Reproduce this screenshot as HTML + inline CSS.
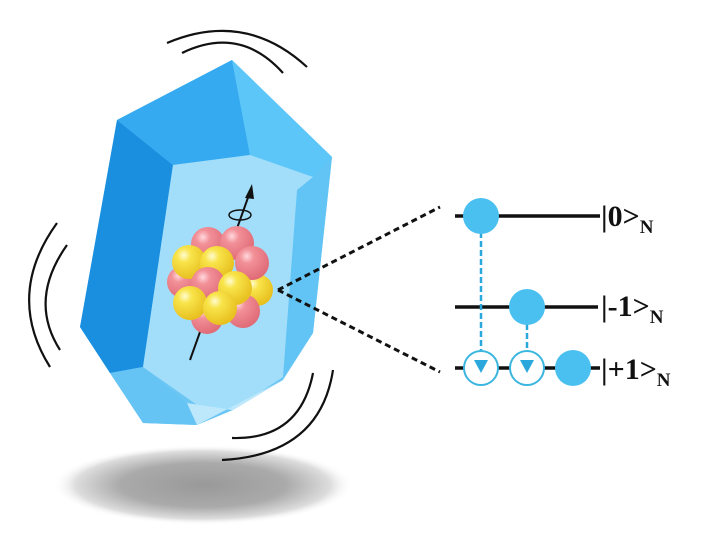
<!DOCTYPE html>
<html><head><meta charset="utf-8"><style>html,body{margin:0;padding:0;background:#fff}svg{display:block}</style></head><body>
<svg width="709" height="541" viewBox="0 0 709 541" xmlns="http://www.w3.org/2000/svg">
<defs>
<radialGradient id="sh" cx="0.5" cy="0.5" r="0.5"><stop offset="0" stop-color="#999"/><stop offset="0.55" stop-color="#aaa"/><stop offset="0.85" stop-color="#ddd"/><stop offset="1" stop-color="#fff" stop-opacity="0"/></radialGradient>
<radialGradient id="py" cx="0.35" cy="0.3" r="0.7"><stop offset="0" stop-color="#fffbd0"/><stop offset="0.3" stop-color="#f8e44a"/><stop offset="1" stop-color="#e8c020"/></radialGradient>
<radialGradient id="pp" cx="0.35" cy="0.3" r="0.7"><stop offset="0" stop-color="#ffd8dc"/><stop offset="0.3" stop-color="#f29098"/><stop offset="1" stop-color="#e06c78"/></radialGradient>
</defs>
<ellipse cx="203" cy="485" rx="150" ry="40" fill="url(#sh)"/>
<polygon points="117,120 232,60 332,157 313,333 283,380 233,410 197,425 143,423 110,373 80,327" fill="#6cc6f4"/>
<polygon points="117,120 173,165 143,367 110,373 80,327" fill="#1a8fe0"/>
<polygon points="117,120 232,60 250,155 173,165" fill="#36aaf0"/>
<polygon points="232,60 332,157 313,177 250,155" fill="#5cc6f8"/>
<polygon points="332,157 313,177 297,190 283,377 313,333" fill="#62c4f4"/>
<polygon points="173,165 250,155 313,177 297,190 283,377 233,410 200,407 143,367" fill="#a2defa"/>
<polygon points="110,373 143,367 187,403 197,425 143,423" fill="#66c4f4"/>
<polygon points="187,403 233,410 283,380 197,425" fill="#bde8fb"/>
<line x1="190" y1="360" x2="250" y2="192" stroke="#111" stroke-width="2"/>
<polygon points="252,184 245,198 254,199" fill="#111"/>
<ellipse cx="240" cy="215" rx="11" ry="5" fill="none" stroke="#111" stroke-width="1.5"/>
<g>
<circle cx="208" cy="244" r="17" fill="url(#pp)"/>
<circle cx="237" cy="243" r="17" fill="url(#pp)"/>
<circle cx="183" cy="282" r="16" fill="url(#pp)"/>
<circle cx="257" cy="290" r="16" fill="url(#py)"/>
<circle cx="189" cy="262" r="17" fill="url(#py)"/>
<circle cx="217" cy="263" r="17" fill="url(#py)"/>
<circle cx="252" cy="263" r="17" fill="url(#pp)"/>
<circle cx="207" cy="318" r="16" fill="url(#pp)"/>
<circle cx="243" cy="311" r="17" fill="url(#pp)"/>
<circle cx="208" cy="284" r="17" fill="url(#pp)"/>
<circle cx="235" cy="288" r="17" fill="url(#py)"/>
<circle cx="190" cy="303" r="17" fill="url(#py)"/>
<circle cx="220" cy="308" r="17" fill="url(#py)"/>
</g>
<g fill="none" stroke="#111" stroke-width="2.2">
<path d="M167,43 Q245,10 307,67"/>
<path d="M182,53 Q240,25 283,73"/>
<path d="M57,223 Q5,295 50,367"/>
<path d="M67,245 Q28,300 60,350"/>
<path d="M333,370 Q320,455 222,460"/>
<path d="M313,373 Q300,440 232,438"/>
</g>
<g stroke="#111" stroke-width="3" stroke-dasharray="6,4" fill="none">
<line x1="278" y1="290" x2="440" y2="207"/>
<line x1="278" y1="290" x2="440" y2="372"/>
</g>
<g stroke="#111" stroke-width="3.5">
<line x1="455" y1="216" x2="600" y2="216"/>
<line x1="455" y1="307" x2="598" y2="307"/>
<line x1="455" y1="368" x2="600" y2="368"/>
</g>
<g stroke="#2aa8dc" stroke-width="2.5" stroke-dasharray="6,3">
<line x1="481" y1="232" x2="481" y2="362"/>
<line x1="527" y1="324" x2="527" y2="362"/>
</g>
<circle cx="481" cy="368" r="17" fill="#fff" stroke="#3ab6e0" stroke-width="2"/>
<circle cx="527" cy="368" r="17" fill="#fff" stroke="#3ab6e0" stroke-width="2"/>
<polygon points="474,360 488,360 481,373" fill="#2aa8dc"/>
<polygon points="520,360 534,360 527,373" fill="#2aa8dc"/>
<circle cx="481" cy="216" r="18" fill="#4ac0f0"/>
<circle cx="527" cy="307" r="18" fill="#4ac0f0"/>
<circle cx="573" cy="368" r="18" fill="#4ac0f0"/>
<g font-family="'Liberation Serif',serif" font-weight="bold" fill="#111">
<text x="601" y="226" font-size="30">|0&gt;<tspan font-size="19" dy="7">N</tspan></text>
<text x="601" y="316" font-size="30">|-1&gt;<tspan font-size="19" dy="7">N</tspan></text>
<text x="601" y="379" font-size="30">|+1&gt;<tspan font-size="19" dy="7">N</tspan></text>
</g>
</svg>
</body></html>
